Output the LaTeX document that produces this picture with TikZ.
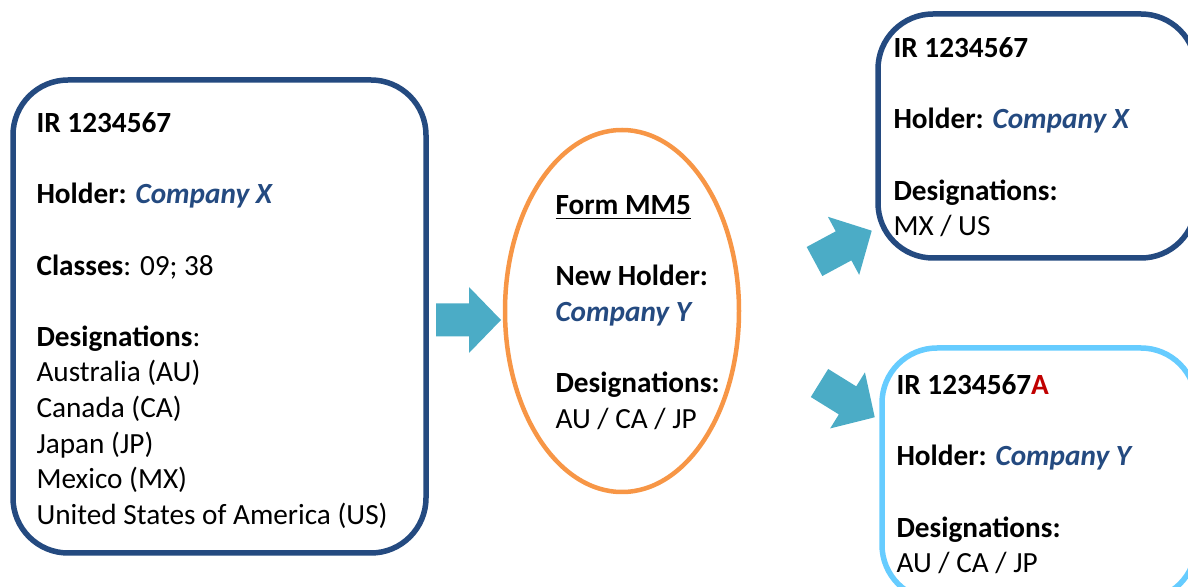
\documentclass[tikz,border=0pt]{standalone}
\usepackage{fontspec}
\setmainfont{Carlito}
\usetikzlibrary{shapes.geometric}

\definecolor{boxblue}{RGB}{36,74,128}
\definecolor{holderblue}{RGB}{36,74,128}
\definecolor{arrowteal}{RGB}{75,172,198}
\definecolor{formorange}{RGB}{247,150,70}
\definecolor{newblue}{RGB}{102,204,255}
\definecolor{suffixred}{RGB}{192,0,0}

\newcommand{\pxu}{0.376pt}
\newcommand{\holder}[1]{\textcolor{holderblue}{\textbf{\textit{#1}}}}

\begin{document}
\begin{tikzpicture}[x=\pxu, y=-\pxu,
    regbox/.style={draw=boxblue, line width=5.5*\pxu, rounded corners=55*\pxu, inner sep=0pt},
    txt/.style={anchor=north west, align=left, inner sep=0pt, font=\fontsize{11}{13.4}\selectfont},
    blockarrow/.pic={\fill[arrowteal] (0,-16.5) -- (33,-16.5) -- (33,-33) -- (65,0)
      -- (33,33) -- (33,16.5) -- (0,16.5) -- cycle;}]
    \useasboundingbox (0,0) rectangle (1188,587);

    % old registration
    \node[regbox, minimum width=413*\pxu, minimum height=473*\pxu] (irold) at (219.5,316.5) {};
    \node[txt] (irold-text) at (36,112) {\textbf{IR 1234567}\\[13.4pt]
      \textbf{Holder:} \holder{Company X}\\[13.4pt]
      \textbf{Classes}: 09; 38\\[13.4pt]
      \textbf{Designations}:\\
      Australia (AU)\\
      Canada (CA)\\
      Japan (JP)\\
      Mexico (MX)\\
      United States of America (US)};

    % form MM5
    \node[draw=formorange, line width=4.5*\pxu, ellipse, inner sep=0pt,
      minimum width=234*\pxu, minimum height=362*\pxu] (mm5) at (622,311) {};
    \node[txt] (mm5-text) at (555,195) {\underline{\textbf{Form MM5}}\\[13.4pt]
      \textbf{New Holder:}\\
      \holder{Company Y}\\[13.4pt]
      \textbf{Designations:}\\
      AU / CA / JP};

    % remaining and new registration
    \node[regbox, minimum width=318*\pxu, minimum height=244*\pxu] (irrest) at (1037,136) {};
    \node[txt] (irrest-text) at (893,37) {\textbf{IR 1234567}\\[13.4pt]
      \textbf{Holder:} \holder{Company X}\\[13.4pt]
      \textbf{Designations:}\\
      MX / US};

    \node[regbox, draw=newblue, minimum width=314*\pxu, minimum height=252*\pxu] (irnew) at (1039,474) {};
    \node[txt] (irnew-text) at (896,374) {\textbf{IR 1234567\textcolor{suffixred}{A}}\\[13.4pt]
      \textbf{Holder:} \holder{Company Y}\\[13.4pt]
      \textbf{Designations:}\\
      AU / CA / JP};

    % arrows
    \pic at (436,320) {blockarrow};
    \pic[rotate=28.3] at (814.5,261.5) {blockarrow};
    \pic[rotate=-31.8] at (819.5,383) {blockarrow};
\end{tikzpicture}
\end{document}
